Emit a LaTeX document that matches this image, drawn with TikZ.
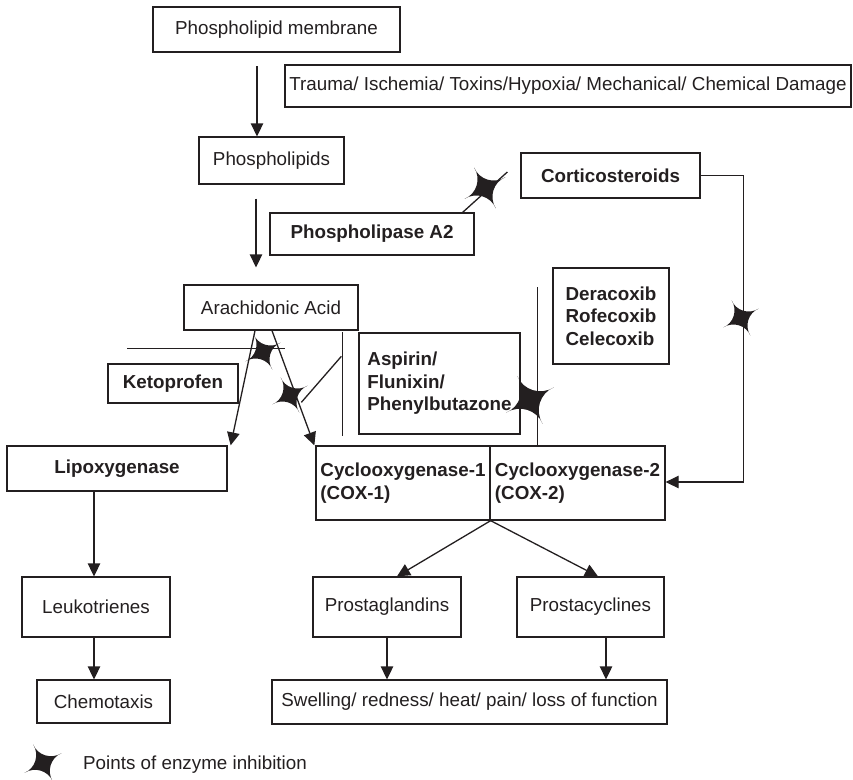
\documentclass[tikz,border=0pt]{standalone}
\usepackage{fontspec}
\setmainfont{Liberation Sans}
\usetikzlibrary{arrows.meta,calc}
\definecolor{ink}{RGB}{35,31,32}
\tikzset{
  box/.style={draw=ink, line width=1.3pt, inner sep=0pt, align=left, text=ink,
              font=\fontsize{18.8}{22.5}\selectfont},
  bbox/.style={box, font=\fontsize{18.8}{22.5}\selectfont\bfseries},
  arr/.style={draw=ink, line width=1.3pt, -{Triangle[width=12.5pt,length=13pt]}},
  ln/.style={draw=ink, line width=1.3pt},
  istar/.pic={\fill[ink] (62:1) .. controls (55:0.45) and (158:0.42) .. (152:1)
       .. controls (145:0.45) and (248:0.42) .. (242:1)
       .. controls (235:0.45) and (338:0.42) .. (332:1)
       .. controls (325:0.45) and (68:0.42) .. (62:1) -- cycle;}
}
\begin{document}
\begin{tikzpicture}[x=1pt,y=-1pt]
\useasboundingbox (0,0) rectangle (853,779);

% boxes
\node[box, minimum width=247pt, minimum height=45pt] (mem) at (276.5,29.5) {Phospholipid membrane};
\node[box, minimum width=566pt, minimum height=42pt] (tr) at (568,86) {Trauma/ Ischemia/ Toxins/Hypoxia/ Mechanical/ Chemical Damage};
\node[box, minimum width=145pt, minimum height=47pt] (pl) at (271.5,160.5) {Phospholipids};
\node[bbox, minimum width=204pt, minimum height=42pt] (pla) at (372,234) {Phospholipase A2};
\node[bbox, minimum width=179pt, minimum height=45pt] (cs) at (610.5,175.5) {Corticosteroids};
\node[box, minimum width=174pt, minimum height=45pt] (aa) at (271,307.5) {Arachidonic Acid};
\node[bbox, minimum width=116pt, minimum height=96pt] (dr) at (611,316) {Deracoxib\\Rofecoxib\\Celecoxib};
\node[bbox, minimum width=161pt, minimum height=101pt] (as) at (439.5,383.5) {Aspirin/\\Flunixin/\\Phenylbutazone};
\node[bbox, minimum width=130pt, minimum height=39pt] (kp) at (173,383.5) {Ketoprofen};
\node[bbox, minimum width=220pt, minimum height=45pt] (lx) at (117,468.5) {Lipoxygenase};
\node[bbox, minimum width=174pt, minimum height=74pt] (cox1) at (403,483) {Cyclooxygenase-1\\(COX-1)};
\node[bbox, minimum width=175pt, minimum height=74pt] (cox2) at (577.5,483) {Cyclooxygenase-2\\(COX-2)};
\node[box, minimum width=148pt, minimum height=60pt] (lk) at (96,607) {Leukotrienes};
\node[box, minimum width=133pt, minimum height=43pt] (ch) at (103.5,701.5) {Chemotaxis};
\node[box, minimum width=148pt, minimum height=60pt] (pg) at (387,607) {Prostaglandins};
\node[box, minimum width=147pt, minimum height=60pt] (pc) at (590.5,607) {Prostacyclines};
\node[box, minimum width=395pt, minimum height=44pt] (sw) at (469.5,702) {Swelling/ redness/ heat/ pain/ loss of function};

% arrows
\draw[arr] ($(pl.north)+(-14.5,-70)$) -- ($(pl.north)+(-14.5,0)$);
\draw[arr] ($(pl.south)+(-15.5,14)$) -- ($(aa.north)+(-15,-17)$);
\draw[arr] ($(aa.south)+(-16,0)$) -- ($(lx.north east)+(3,0)$);
\draw[arr] ($(aa.south)+(1,0)$) -- ($(cox1.north west)+(-1,0)$);
\draw[arr] (cs.east) -- ++(43,0) |- ($(cox2.east)+(0,-1)$);
\draw[arr] ($(lx.south)+(-23,0)$) -- ($(lk.north)+(-2,0)$);
\draw[arr] ($(lk.south)+(-2,0)$) -- ($(ch.north)+(-9.5,0)$);
\coordinate (cj) at (cox1.south east);
\draw[arr] (cj) -- ($(pg.north)+(10,0)$);
\draw[arr] (cj) -- ($(pc.north)+(7.5,0)$);
\draw[arr] (pg.south) -- ($(sw.north)+(-82.5,0)$);
\draw[arr] ($(pc.south)+(15.5,0)$) -- ($(sw.north)+(136.5,0)$);

% inhibition lines
\coordinate (k1) at ($(kp.north west)+(20,-15)$);
\coordinate (k2) at ($(kp.north west)+(178,-15)$);
\draw[ln] (k1) -- (k2);
\coordinate (a1) at ($(as.north west)+(-16,0)$);
\coordinate (a2) at ($(as.south west)+(-16,1)$);
\draw[ln] (a1) -- (a2);
\coordinate (a3) at ($(as.north west)+(-17,24)$);
\coordinate (a4) at ($(as.north west)+(-57,70)$);
\draw[ln] (a3) -- (a4);
\coordinate (d1) at ($(dr.north west)+(-15,20)$);
\draw[ln] (d1) -- ($(cox2.north west)+(48,0)$);
\coordinate (p1) at ($(pla.north east)+(-12,0)$);
\coordinate (p2) at ($(cs.west)+(-13,-3.5)$);
\draw[ln] (p1) -- (p2);

% stars
\pic[scale=23] at (485,188) {istar};
\pic[scale=20] at (741,318) {istar};
\pic[scale=27] at (530,400) {istar};
\pic[scale=20] at (263,352) {istar};
\pic[scale=20] at (290,395) {istar};
\pic[scale=21] at (43,763) {istar};

% legend
\node[anchor=west, inner sep=0pt, text=ink, font=\fontsize{18.8}{22.5}\selectfont] (lg) at (83,765) {Points of enzyme inhibition};
\end{tikzpicture}
\end{document}
